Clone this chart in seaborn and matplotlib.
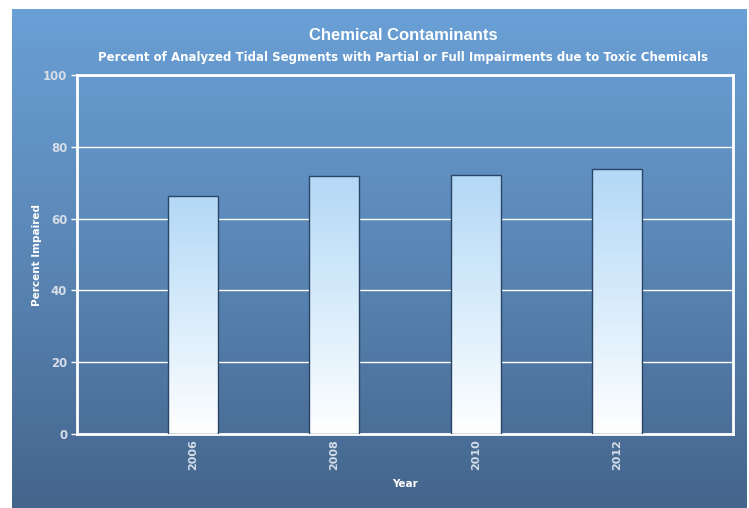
import numpy as np
import pandas as pd
import matplotlib
matplotlib.use("Agg")
import matplotlib.pyplot as plt
import seaborn as sns
from matplotlib.colors import LinearSegmentedColormap

years = ["2006", "2008", "2010", "2012"]
percent_impaired = [66.2, 71.9, 72.1, 73.8]
y_ticks = [0, 20, 40, 60, 80, 100]

title = "Chemical Contaminants"
subtitle = "Percent of Analyzed Tidal Segments with Partial or Full Impairments due to Toxic Chemicals"
x_label = "Year"
y_label = "Percent Impaired"

df = pd.DataFrame({"Year": years, "Percent": percent_impaired})

sns.set_theme(style="white")
W, H = 749, 508
fig = plt.figure(figsize=(W / 100, H / 100), dpi=100)
fig.patch.set_facecolor("white")

# background panel with vertical gradient
bg = fig.add_axes([12 / W, 0, (747 - 12) / W, (H - 9) / H], zorder=0)
bg_cmap = LinearSegmentedColormap.from_list("bg", ["#44658c", "#5a86b5", "#6aa0d6"])
grad = np.linspace(0, 1, 256).reshape(-1, 1)
bg.imshow(grad, aspect="auto", cmap=bg_cmap, origin="lower", extent=[0, 1, 0, 1])
bg.set_axis_off()

ax = fig.add_axes([77 / W, (H - 434) / H, (733 - 77) / W, (434 - 75) / H], zorder=1)
ax.patch.set_alpha(0)

sns.barplot(data=df, x="Year", y="Percent", ax=ax, width=0.355,
            color="#ffffff", edgecolor="#2b4566", linewidth=1.0, zorder=3)

bar_cmap = LinearSegmentedColormap.from_list("bar", ["#ffffff", "#d8ecfb", "#b3d8f6"])
for p in ax.patches:
    x0, y0 = p.get_x(), p.get_y()
    w, h = p.get_width(), p.get_height()
    im = ax.imshow(grad, aspect="auto", cmap=bar_cmap, origin="lower",
                   extent=[x0, x0 + w, y0, y0 + h], zorder=3.5)
    im.set_clip_path(p)
    p.set_facecolor("none")
    p.set_zorder(4)

ax.set_xlim(-0.82, 3.82)
ax.set_ylim(0, 100)
ax.set_yticks(y_ticks)
ax.set_yticklabels([str(t) for t in y_ticks])
ax.grid(axis="y", color="white", linewidth=1.0, zorder=1)
ax.set_axisbelow(True)
for s in ax.spines.values():
    s.set_color("white")
    s.set_linewidth(2)
    s.set_visible(True)

ax.tick_params(axis="y", colors="white", length=4, width=1, direction="out",
               labelcolor="#d5dde8", labelsize=8.5, pad=3, left=True)
ax.tick_params(axis="x", length=0, labelcolor="#d5dde8", labelsize=8, pad=4,
               labelrotation=90)
for lbl in ax.get_yticklabels() + ax.get_xticklabels():
    lbl.set_fontweight("bold")
    lbl.set_family("DejaVu Sans")

ax.set_xlabel(x_label, color="white", fontsize=7.5, fontweight="bold", labelpad=6.5)
ax.set_ylabel(y_label, color="white", fontsize=7.5, fontweight="bold", labelpad=1)

fig.text(403 / W, 1 - 36 / H, title, ha="center", va="center", color="white",
         fontsize=12, fontweight="bold", family=["Liberation Sans", "DejaVu Sans"])
fig.text(403 / W, 1 - 57 / H, subtitle, ha="center", va="center", color="white",
         fontsize=8.45, fontweight="bold", family=["DejaVu Sans"])

fig.savefig("out.png", dpi=100)
